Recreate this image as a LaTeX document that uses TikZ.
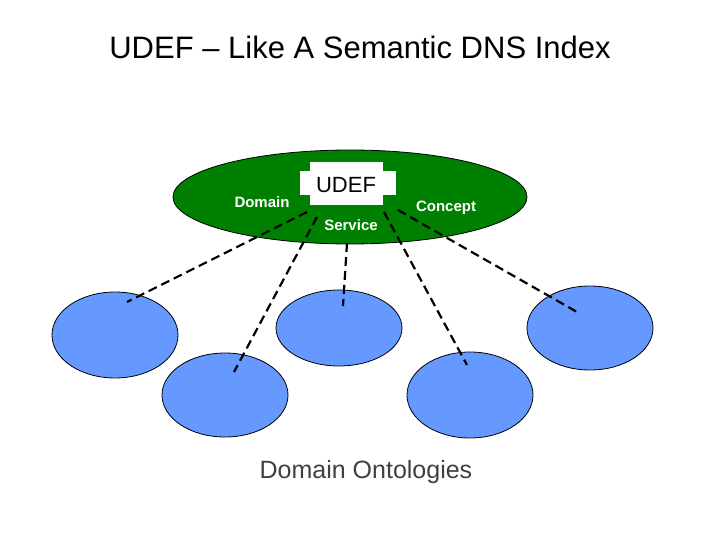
\documentclass[tikz,border=0pt]{standalone}
\usepackage{fontspec}
\setmainfont{Liberation Sans}
\usetikzlibrary{shapes.geometric}
\begin{document}
\begin{tikzpicture}[x=1pt,y=-1pt,
  onto/.style={draw=black,fill={rgb,255:red,102;green,153;blue,255},line width=0.8pt,ellipse,inner sep=0pt},
  dline/.style={line width=2.2pt,dash pattern=on 9pt off 5pt},
  lab/.style={text=white,font=\bfseries\fontsize{15}{17}\selectfont}]
\useasboundingbox (0,0) rectangle (720,540);
\node (title) at (360,47) {\fontsize{31}{36}\selectfont UDEF -- Like A Semantic DNS Index};
\node[draw=black,fill={rgb,255:red,0;green,128;blue,0},ellipse,inner sep=0pt,minimum width=354pt,minimum height=94pt,line width=0.8pt] (udefell) at (350,197) {};
\fill[white] (300,171) rectangle (396,195);
\fill[white] (310,162) rectangle (383,205);
\node (udef) at (346,185) {\fontsize{22}{26}\selectfont UDEF};
\node[lab] (domain) at (262,202) {Domain};
\node[lab] (service) at (351,225) {Service};
\node[lab] (concept) at (446,208) {Concept};
\node[onto,minimum width=126pt,minimum height=86pt] (o1) at (115,335) {};
\node[onto,minimum width=126pt,minimum height=76pt] (o2) at (339,328) {};
\node[onto,minimum width=126pt,minimum height=84pt] (o3) at (590,328) {};
\node[onto,minimum width=126pt,minimum height=84pt] (o4) at (225,395) {};
\node[onto,minimum width=126pt,minimum height=86pt] (o5) at (470,395) {};
\coordinate (a1) at (307,212); \coordinate (a2) at (127,302);
\coordinate (b1) at (317,217); \coordinate (b2) at (234,372);
\coordinate (c1) at (347,243); \coordinate (c2) at (343,306);
\coordinate (d1) at (384,212); \coordinate (d2) at (467,365);
\coordinate (e1) at (398,210); \coordinate (e2) at (577,312);
\draw[dline] (a1) -- (a2);
\draw[dline] (b1) -- (b2);
\draw[dline] (c1) -- (c2);
\draw[dline] (d1) -- (d2);
\draw[dline] (e1) -- (e2);
\node[text={rgb,255:red,64;green,64;blue,64}] (dom) at (366,472) {\fontsize{25}{30}\selectfont Domain Ontologies};
\end{tikzpicture}
\end{document}
